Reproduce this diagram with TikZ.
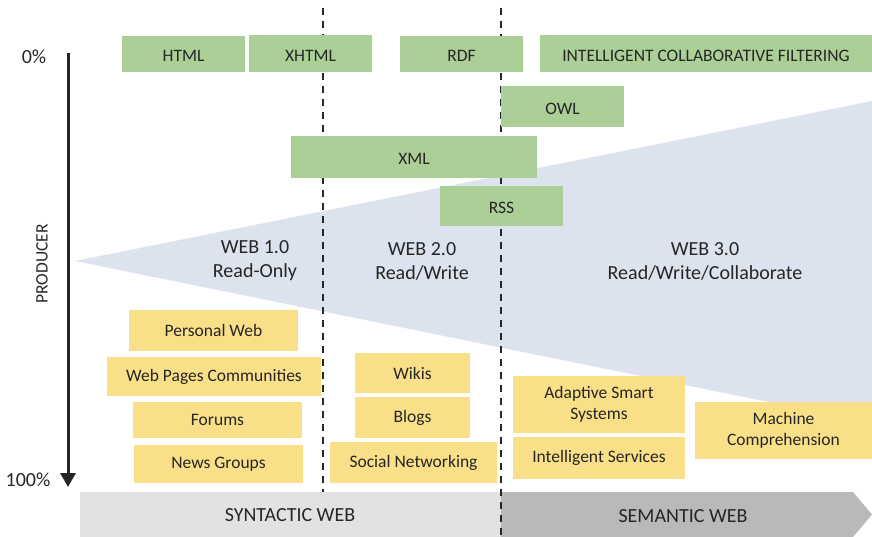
\documentclass[tikz,border=0pt]{standalone}
\usepackage{fontspec}
\setmainfont{Carlito}
\usetikzlibrary{arrows.meta}
\definecolor{techgreen}{HTML}{ACCF97}
\definecolor{appyellow}{HTML}{F9DF87}
\definecolor{wedge}{HTML}{DCE3EE}
\definecolor{ink}{HTML}{262626}
\definecolor{bandlight}{HTML}{E2E2E2}
\definecolor{banddark}{HTML}{B9B9B9}
\tikzset{
  lbl/.style={text=ink, font=\fontsize{17.5}{21.5}\selectfont},
  big/.style={text=ink, font=\fontsize{20}{24}\selectfont},
  gbox/.style={lbl, fill=techgreen, inner sep=0pt, align=center, text height=15.5pt, text depth=0pt},
  ybox/.style={lbl, fill=appyellow, inner sep=0pt, align=center},
  era/.style={big, align=center},
  divider/.style={ink, line width=1.4pt, dash pattern=on 7pt off 6pt},
}
\newcommand{\boxat}[6]{% style, name, x0, y0, x1, y1; the text follows
  \node[#1, minimum width={(#5-#3)*1pt}, minimum height={(#6-#4)*1pt}] (#2) at ({(#3+#5)/2},{(#4+#6)/2})}
\begin{document}
\begin{tikzpicture}[x=1pt, y=-1pt]
\useasboundingbox (0,0) rectangle (872,537);

% growth wedge
\fill[wedge] (75,261) -- (872,101) -- (872,423) -- cycle;

% era dividers
\coordinate (d1top) at (323,8);
\coordinate (d1bot) at (323,492);
\coordinate (d2top) at (501,8);
\coordinate (d2bot) at (501,537);

% bottom bands
\fill[bandlight] (80,492) rectangle (501,537);
\fill[banddark] (501,492) -- (853,492) -- (872,514.5) -- (853,537) -- (501,537) -- cycle;
\node[big] (syn) at (290,515) {SYNTACTIC WEB};
\node[big] (sem) at (683,516) {SEMANTIC WEB};

\draw[divider] (d1top) -- (d1bot);
\draw[divider] (d2top) -- (d2bot);

% producer axis
\coordinate (axtop) at (68,53);
\coordinate (axbot) at (68,487);
\draw[line width=3pt, ink, -{Triangle[length=14pt, width=15pt]}] (axtop) -- (axbot);
\node[big, anchor=center] (p0) at (34,57) {0\%};
\node[big, anchor=center] (p100) at (28,480) {100\%};
\node[lbl, rotate=90] (prod) at (42,264) {PRODUCER};

% era labels
\node[era] (w1) at (255,261) {WEB 1.0\\Read-Only};
\node[era] (w2) at (422,261) {WEB 2.0\\Read/Write};
\node[era] (w3) at (705,261) {WEB 3.0\\Read/Write/Collaborate};

% technologies
\boxat{gbox}{html}{122}{36}{245}{72} {HTML};
\boxat{gbox}{xhtml}{249}{35}{372}{72} {XHTML};
\boxat{gbox}{rdf}{400}{36}{523}{72} {RDF};
\boxat{gbox}{icf}{540}{35}{872}{72} {INTELLIGENT COLLABORATIVE FILTERING};
\boxat{gbox}{owl}{501}{86}{624}{127} {OWL};
\boxat{gbox}{xml}{291}{136}{537}{178} {XML};
\boxat{gbox}{rss}{440}{186}{563}{226} {RSS};

% applications
\boxat{ybox}{pweb}{129}{310}{298}{351} {Personal Web};
\boxat{ybox}{wpc}{107}{357}{321}{396} {Web Pages Communities};
\boxat{ybox}{forums}{133}{402}{302}{438} {Forums};
\boxat{ybox}{news}{134}{445}{303}{483} {News Groups};
\boxat{ybox}{wikis}{355}{353}{470}{393} {Wikis};
\boxat{ybox}{blogs}{355}{397}{470}{438} {Blogs};
\boxat{ybox}{social}{330}{442}{497}{483} {Social Networking};
\boxat{ybox}{adapt}{513}{376}{685}{433} {Adaptive Smart\\Systems};
\boxat{ybox}{intsrv}{513}{437}{685}{479} {Intelligent Services};
\boxat{ybox}{machine}{695}{402}{872}{459} {Machine\\Comprehension};
\end{tikzpicture}
\end{document}
